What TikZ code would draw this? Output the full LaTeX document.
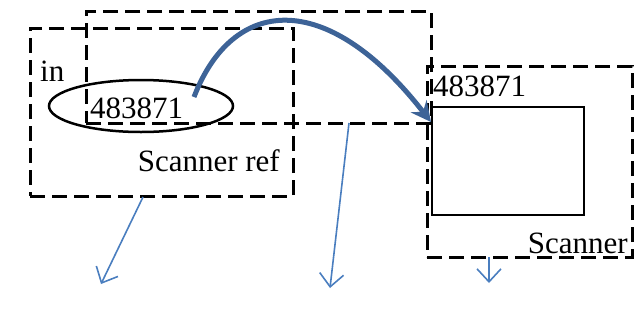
\documentclass[tikz,border=0pt]{standalone}
\usepackage{fontspec}
\setmainfont{Liberation Serif}
\usetikzlibrary{arrows.meta,shapes.geometric}
\definecolor{flowblue}{HTML}{3D6397}
\definecolor{linkblue}{HTML}{4A7EBF}
\tikzset{
  dashbox/.style={draw=black, line width=3pt, dash pattern=on 15pt off 7pt, rectangle, inner sep=0pt},
  lbl/.style={inner sep=0pt, font=\fontsize{31}{32}\selectfont},
  pointer/.style={draw=linkblue, line width=1.6pt, -{Straight Barb[length=13pt,width=24pt,line width=1.6pt]}},
  flow/.style={draw=flowblue, line width=5pt, -{Stealth[length=20pt,width=20pt,inset=7pt]}}
}
\begin{document}
\begin{tikzpicture}[x=1pt,y=-1pt]
\useasboundingbox (0,0) rectangle (634,322);
% dashed frames
\node[dashbox, minimum width=263pt, minimum height=168pt] (ref) at (161.5,112) {};
\node[dashbox, minimum width=345pt, minimum height=112pt] (top) at (258.5,67) {};
\node[dashbox, minimum width=205pt, minimum height=191pt] (scn) at (529.5,161.5) {};
% solid inner box of the scanner
\node[draw=black, line width=1.2pt, minimum width=152pt, minimum height=108pt, inner sep=0pt] (inner) at (508,161) {};
% value cell
\node[draw=black, line width=2.5pt, ellipse, minimum width=184pt, minimum height=52pt, inner sep=0pt] (cell) at (141,106) {};
\node[lbl, anchor=base west] (val) at (90,118) {483871};
\node[lbl, anchor=base west] (val2) at (433,96) {483871};
\node[lbl, anchor=base west] (in) at (40,81) {in};
\node[lbl, anchor=base east] (refname) at (280,171) {Scanner ref};
\node[lbl, anchor=base east] (scnname) at (628,253) {Scanner};
% pointer ends
\coordinate (e1) at (101,284);
\coordinate (e2) at (330,288);
\coordinate (e3) at (489,283);
\coordinate (s1) at (143,197);
\coordinate (s2) at (349,123);
\coordinate (s3) at (489,257);
\coordinate (fs) at (194,97);
\coordinate (fe) at (431,122);
\draw[pointer] (s1) -- (e1);
\draw[pointer] (s2) -- (e2);
\draw[pointer] (s3) -- (e3);
% reference flow into the scanner
\draw[flow] (fs) .. controls (232,-2) and (325,-14) .. (fe);
\end{tikzpicture}
\end{document}
